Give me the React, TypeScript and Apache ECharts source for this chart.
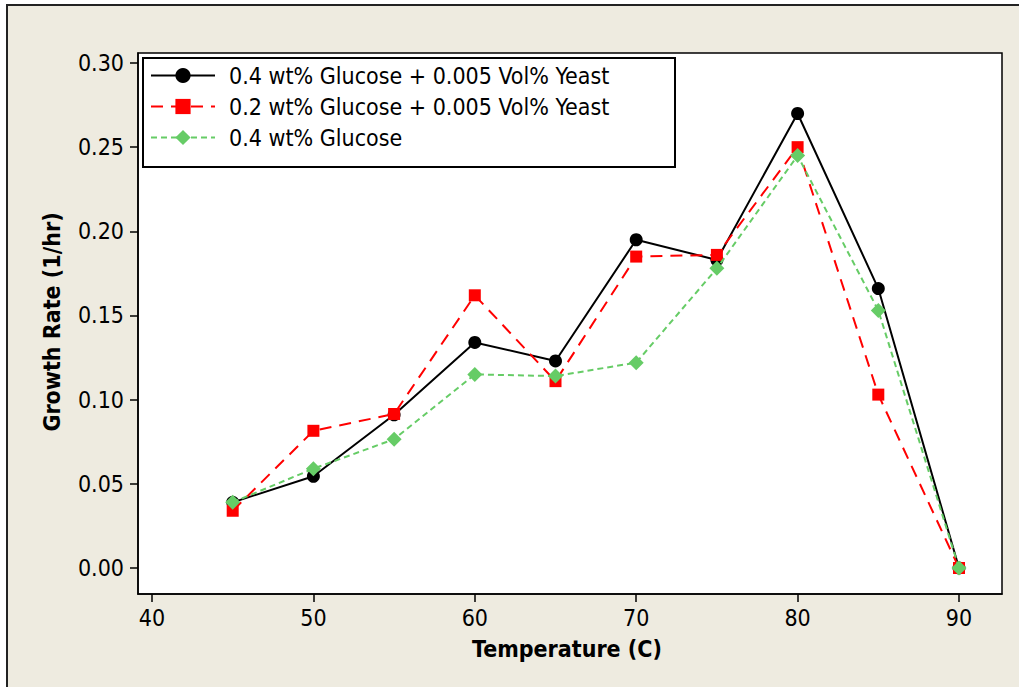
import React, { useEffect, useRef } from "react";
import * as echarts from "echarts";

const temperatures = [45, 50, 55, 60, 65, 70, 75, 80, 85, 90];
const glucose04Yeast = [0.039, 0.0545, 0.091, 0.134, 0.123, 0.195, 0.183, 0.270, 0.166, 0.0];
const glucose02Yeast = [0.034, 0.0815, 0.0915, 0.162, 0.111, 0.185, 0.186, 0.250, 0.103, 0.0];
const glucose04 = [0.039, 0.059, 0.0765, 0.115, 0.114, 0.122, 0.178, 0.245, 0.153, 0.0];
const seriesNames = [
  "0.4 wt% Glucose + 0.005 Vol% Yeast",
  "0.2 wt% Glucose + 0.005 Vol% Yeast",
  "0.4 wt% Glucose",
];
const xTicks = [40, 50, 60, 70, 80, 90];
const yTicks = [0, 0.05, 0.1, 0.15, 0.2, 0.25, 0.3];

const FONT = "'DejaVu Sans Condensed', 'DejaVu Sans', sans-serif";

const pairs = (ys: number[]) => temperatures.map((t, i) => [t, ys[i]]);

export default function App() {
  const ref = useRef<HTMLDivElement>(null);
  useEffect(() => {
    if (!ref.current) return;
    const chart = echarts.init(ref.current, null, { renderer: "svg" });
    chart.setOption({
      animation: false,
      grid: { left: 138, right: 17, top: 53, bottom: 93, containLabel: false },
      xAxis: {
        type: "value",
        min: 39.1326,
        max: 92.664,
        axisLine: { show: true, onZero: false, lineStyle: { color: "#000", width: 1.5 } },
        axisTick: { show: true, length: 8, customValues: xTicks, lineStyle: { color: "#000", width: 1.5 } },
        splitLine: { show: false },
        axisLabel: { customValues: xTicks, fontFamily: FONT, fontSize: 23, color: "#000", margin: 12 },
      },
      yAxis: {
        type: "value",
        min: -0.01545,
        max: 0.30594,
        axisLine: { show: true, onZero: false, lineStyle: { color: "#000", width: 1.5 } },
        axisTick: { show: true, length: 8, customValues: yTicks, lineStyle: { color: "#000", width: 1.5 } },
        splitLine: { show: false },
        axisLabel: {
          customValues: yTicks,
          fontFamily: FONT,
          fontSize: 23,
          color: "#000",
          margin: 14,
          formatter: (v: number) => v.toFixed(2),
        },
      },
      legend: {
        show: true,
        orient: "vertical",
        left: 150,
        top: 64,
        padding: 0,
        itemGap: 8,
        itemWidth: 64,
        itemHeight: 19,
        textStyle: { fontFamily: FONT, fontSize: 23, color: "#000", padding: [0, 0, 0, 9], lineHeight: 23 },
        data: seriesNames,
      },
      graphic: [
        {
          type: "rect",
          z: -10,
          shape: { x: 7, y: 5, width: 1040, height: 720 },
          style: { fill: "#EEEBE0", stroke: "#222", lineWidth: 2 },
        },
        {
          type: "rect",
          z: -5,
          shape: { x: 138, y: 53, width: 864, height: 541 },
          style: { fill: "#fff", stroke: "#000", lineWidth: 1.5 },
        },
        {
          type: "rect",
          z: 1,
          shape: { x: 143, y: 58, width: 532, height: 109 },
          style: { fill: "#fff", stroke: "#000", lineWidth: 2 },
        },
        {
          type: "text",
          z: 5,
          x: 567,
          y: 649,
          style: {
            text: "Temperature (C)",
            fontFamily: FONT,
            fontWeight: "bold",
            fontSize: 23,
            fill: "#000",
            textAlign: "center",
            textVerticalAlign: "middle",
          },
        },
        {
          type: "text",
          z: 5,
          x: 52,
          y: 322,
          rotation: Math.PI / 2,
          style: {
            text: "Growth Rate (1/hr)",
            fontFamily: FONT,
            fontWeight: "bold",
            fontSize: 23,
            fill: "#000",
            textAlign: "center",
            textVerticalAlign: "middle",
          },
        },
      ],
      series: [
        {
          name: seriesNames[2],
          type: "line",
          data: pairs(glucose04),
          symbol: "diamond",
          symbolSize: 15,
          clip: false,
          z: 3,
          lineStyle: { color: "#66CC66", width: 2, type: [6, 4] },
          itemStyle: { color: "#66CC66" },
        },
        {
          name: seriesNames[1],
          type: "line",
          data: pairs(glucose02Yeast),
          symbol: "rect",
          symbolSize: 12,
          clip: false,
          z: 2,
          lineStyle: { color: "#FF0000", width: 2, type: [12, 8] },
          itemStyle: { color: "#FF0000" },
        },
        {
          name: seriesNames[0],
          type: "line",
          data: pairs(glucose04Yeast),
          symbol: "circle",
          symbolSize: 13,
          clip: false,
          z: 1,
          lineStyle: { color: "#000", width: 2, type: "solid" },
          itemStyle: { color: "#000" },
        },
      ],
    });
    return () => chart.dispose();
  }, []);
  return (
    <div
      ref={ref}
      style={{ position: "fixed", left: 0, top: 0, width: 1019, height: 687, background: "#fff" }}
    />
  );
}
